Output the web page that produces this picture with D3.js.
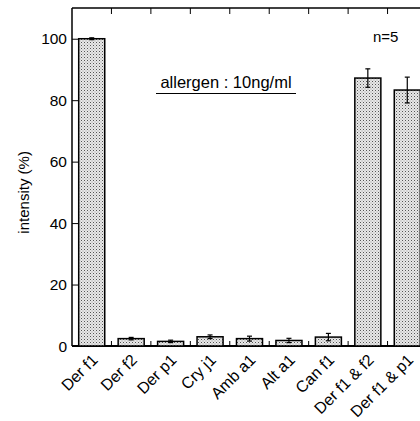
<!DOCTYPE html>
<html lang="en">
<head>
<meta charset="UTF-8">
<title>allergen intensity</title>
<script src="https://d3js.org/d3.v7.min.js"></script>
<style>
  body, html { margin: 0; background: #fff; }
  svg { display: block; }
  text { font-family: "Liberation Sans", Arial, sans-serif; fill: #000; }
</style>
</head>
<body>
<script>
const categories = ["Der f1", "Der f2", "Der p1", "Cry j1", "Amb a1", "Alt a1", "Can f1", "Der f1 & f2", "Der f1 & p1"];
const values = [100, 2.4, 1.5, 3.0, 2.4, 1.8, 2.9, 87.2, 83.3];
const errors = [0.3, 0.4, 0.4, 0.6, 0.8, 0.7, 1.2, 3.0, 4.2];
const yTicks = [0, 20, 40, 60, 80, 100];

const width = 420, height = 421;
const mLeft = 72, mRight = 427, mTop = 8, mBottom = 346;

const svg = d3.select("body").append("svg")
    .attr("width", width).attr("height", height);

const defs = svg.append("defs");
const pat = defs.append("pattern")
    .attr("id", "dots").attr("patternUnits", "userSpaceOnUse")
    .attr("width", 3).attr("height", 3);
pat.append("rect").attr("width", 3).attr("height", 3).attr("fill", "#e8e8e8");
pat.append("rect").attr("width", 1).attr("height", 1).attr("fill", "#555");
pat.append("rect").attr("x", 1.5).attr("y", 1.5).attr("width", 1).attr("height", 1).attr("fill", "#999");

const x = d3.scaleBand().domain(categories).range([mLeft, mRight]).paddingInner(0.34).paddingOuter(0.17);
const xb = d3.scaleLinear().domain([0, categories.length]).range([mLeft, mRight]);
const y = d3.scaleLinear().domain([0, 110]).range([mBottom, mTop]);

// frame
svg.append("line").attr("x1", mLeft).attr("x2", width).attr("y1", mTop).attr("y2", mTop)
    .attr("stroke", "#000").attr("stroke-width", 1.5);
svg.append("line").attr("x1", mLeft).attr("x2", width).attr("y1", mBottom).attr("y2", mBottom)
    .attr("stroke", "#000").attr("stroke-width", 2);
svg.append("line").attr("x1", mLeft).attr("x2", mLeft).attr("y1", mTop).attr("y2", mBottom)
    .attr("stroke", "#000").attr("stroke-width", 1.5);

// category boundary ticks, top and bottom
const bounds = d3.range(1, categories.length);
svg.append("g").selectAll("line.t").data(bounds).join("line")
    .attr("x1", d => xb(d)).attr("x2", d => xb(d))
    .attr("y1", mTop).attr("y2", mTop + 6).attr("stroke", "#000");
svg.append("g").selectAll("line.b").data(bounds).join("line")
    .attr("x1", d => xb(d)).attr("x2", d => xb(d))
    .attr("y1", mBottom).attr("y2", mBottom - 5).attr("stroke", "#000");

// y axis
const yAxis = svg.append("g").attr("transform", `translate(${mLeft},0)`)
    .call(d3.axisRight(y).tickValues(yTicks).tickSize(6).tickFormat(""));
yAxis.select(".domain").remove();
yAxis.selectAll("line").attr("stroke", "#000");
svg.append("g").selectAll("text").data(yTicks).join("text")
    .attr("x", mLeft - 5).attr("y", d => y(d) + 5.5)
    .attr("text-anchor", "end").attr("font-size", 15.5)
    .text(d => d);

svg.append("text")
    .attr("transform", `translate(29,${y(50)}) rotate(-90)`)
    .attr("text-anchor", "middle").attr("font-size", 15)
    .text("intensity (%)");

// bars
svg.append("g").selectAll("rect").data(categories).join("rect")
    .attr("x", d => x(d)).attr("width", x.bandwidth())
    .attr("y", (d, i) => y(values[i])).attr("height", (d, i) => mBottom - y(values[i]))
    .attr("fill", "url(#dots)").attr("stroke", "#000").attr("stroke-width", 1.5);

// error bars
const eb = svg.append("g").attr("stroke", "#000").attr("stroke-width", 1.2);
categories.forEach((c, i) => {
  const cx = x(c) + x.bandwidth() / 2;
  const y0 = y(values[i] + errors[i]), y1 = y(values[i] - errors[i]);
  eb.append("line").attr("x1", cx).attr("x2", cx).attr("y1", y0).attr("y2", y1);
  eb.append("line").attr("x1", cx - 2.5).attr("x2", cx + 2.5).attr("y1", y0).attr("y2", y0);
  eb.append("line").attr("x1", cx - 2.5).attr("x2", cx + 2.5).attr("y1", y1).attr("y2", y1);
});

// x labels
svg.append("g").selectAll("text").data(categories).join("text")
    .attr("transform", d => `translate(${x(d) + x.bandwidth() / 2 + 7},${mBottom + 15}) rotate(-45)`)
    .attr("text-anchor", "end").attr("font-size", 16)
    .text(d => d);

// annotations
svg.append("text").attr("x", 373).attr("y", 42).attr("font-size", 15).text("n=5");
svg.append("text").attr("x", 226).attr("y", 88).attr("text-anchor", "middle")
    .attr("font-size", 16.5).text("allergen : 10ng/ml");
svg.append("line").attr("x1", 156).attr("x2", 296).attr("y1", 93.5).attr("y2", 93.5)
    .attr("stroke", "#000").attr("stroke-width", 1.2);
</script>
</body>
</html>
